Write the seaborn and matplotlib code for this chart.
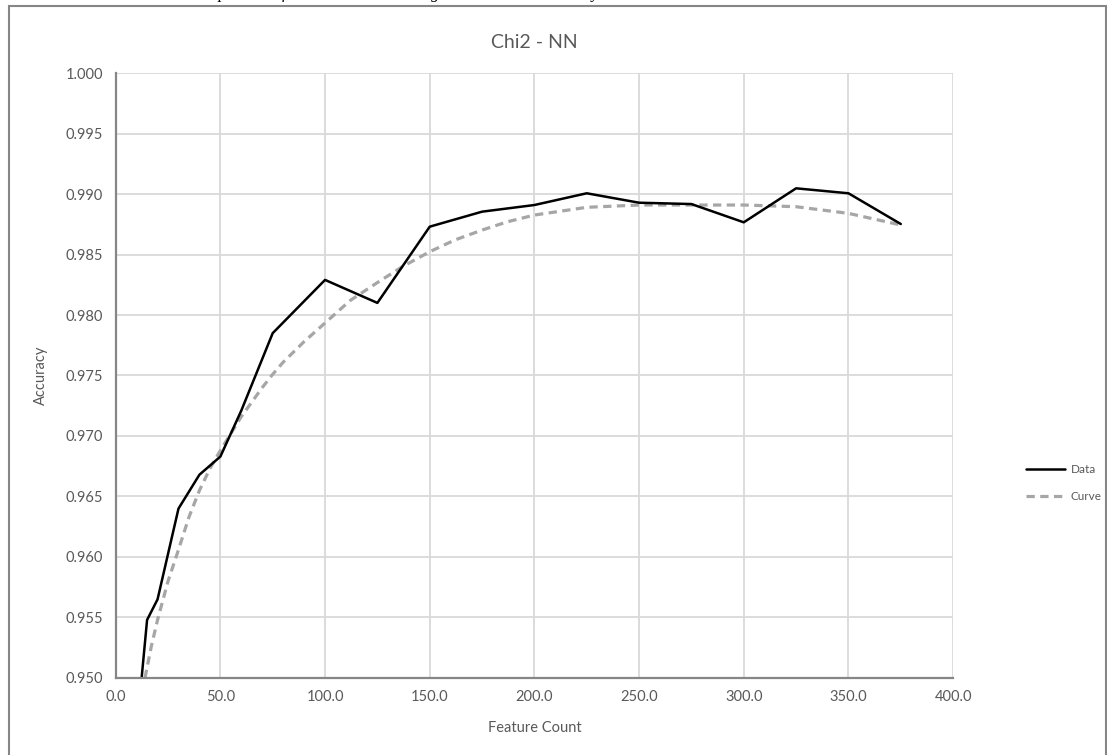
import matplotlib
matplotlib.use("Agg")
import matplotlib.pyplot as plt
from matplotlib.lines import Line2D
from matplotlib.patches import Rectangle
import seaborn as sns

# Measured accuracy at each feature count
feature_count = [10, 15, 20, 30, 40, 50, 60, 75, 100, 125, 150, 175, 200,
                 225, 250, 275, 300, 325, 350, 375]
accuracy = [0.9456, 0.9548, 0.9565, 0.9640, 0.9668, 0.9683, 0.9721, 0.9785,
            0.9829, 0.9810, 0.9873, 0.98854, 0.98909, 0.99006, 0.98928,
            0.98917, 0.98766, 0.99047, 0.99006, 0.98752]

# Trend curve sampled along the feature axis
curve_x = [14, 17, 20, 25, 30, 35, 40, 45, 50, 55, 60, 65, 70, 75, 80, 90,
           100, 112, 125, 137, 150, 162, 175, 187, 200, 225, 250, 275, 300,
           325, 350, 375]
curve_y = [0.9500, 0.9526, 0.9548, 0.9580, 0.9606, 0.9633, 0.9655, 0.9673,
           0.9688, 0.9702, 0.9716, 0.9728, 0.9740, 0.9751, 0.9761, 0.9778,
           0.97934, 0.9812, 0.98268, 0.9840, 0.98523, 0.9862, 0.98702,
           0.9877, 0.98826, 0.98890, 0.98909, 0.98909, 0.98909, 0.98895,
           0.98840, 0.98744]

x_ticks = [0, 50, 100, 150, 200, 250, 300, 350, 400]
y_ticks = [0.950, 0.955, 0.960, 0.965, 0.970, 0.975, 0.980, 0.985, 0.990,
           0.995, 1.000]

sns.set_theme(style="white")
plt.rcParams["font.family"] = ["Lato", "DejaVu Sans"]

text_grey = "#595959"
fig = plt.figure(figsize=(11.07, 7.55), dpi=100)
ax = fig.add_axes([0.1045, 0.102, 0.7565, 0.8013])

sns.lineplot(x=curve_x, y=curve_y, ax=ax, color="#a6a6a6", linewidth=2.3,
             linestyle=(0, (2.6, 1.7)), estimator=None, sort=False)
sns.lineplot(x=feature_count, y=accuracy, ax=ax, color="black", linewidth=1.8,
             estimator=None, sort=False)

ax.set_xlim(0, 400)
ax.set_ylim(0.950, 1.000)
ax.set_xticks(x_ticks)
ax.set_xticklabels([f"{v:.1f}" for v in x_ticks])
ax.set_yticks(y_ticks)
ax.set_yticklabels([f"{v:.3f}" for v in y_ticks])
ax.grid(True, color="#d9d9d9", linewidth=1.3)
ax.set_axisbelow(True)
for side in ("top", "right"):
    ax.spines[side].set_visible(False)
for side in ("left", "bottom"):
    ax.spines[side].set_color("#868686")
    ax.spines[side].set_linewidth(1.6)
ax.tick_params(axis="both", length=0, labelsize=10.5, colors=text_grey, pad=9)

ax.set_title("Chi2 - NN", fontsize=14, color=text_grey, pad=18)
ax.set_xlabel("Feature Count", fontsize=10.5, color=text_grey, labelpad=12)
ax.set_ylabel("Accuracy", fontsize=10.5, color=text_grey, labelpad=13)

handles = [Line2D([], [], color="black", linewidth=1.8),
           Line2D([], [], color="#a6a6a6", linewidth=2.3, linestyle=(0, (2.6, 1.7)))]
fig.legend(handles, ["Data", "Curve"], loc="center left",
           bbox_to_anchor=(0.919, 0.36), frameon=False, fontsize=8.5,
           labelcolor=text_grey, handlelength=3.3, handletextpad=0.5,
           labelspacing=1.4, borderpad=0.2)

# chart frame and the caption line running above it
fig.add_artist(Rectangle((8.5 / 1107, -0.05), (1106 - 8.5) / 1107,
                         1 - 5.5 / 755 + 0.05, transform=fig.transFigure,
                         fill=False, edgecolor="#868686", linewidth=1.5))
fig.text(0.169, 1 + 1.5 / 755,
         "Comparison of Chi2-NN results using reduced dimensionality",
         family=["Liberation Serif"], style="italic", fontsize=12,
         va="baseline", ha="left", color="black")

fig.savefig("out.png", dpi=100)
